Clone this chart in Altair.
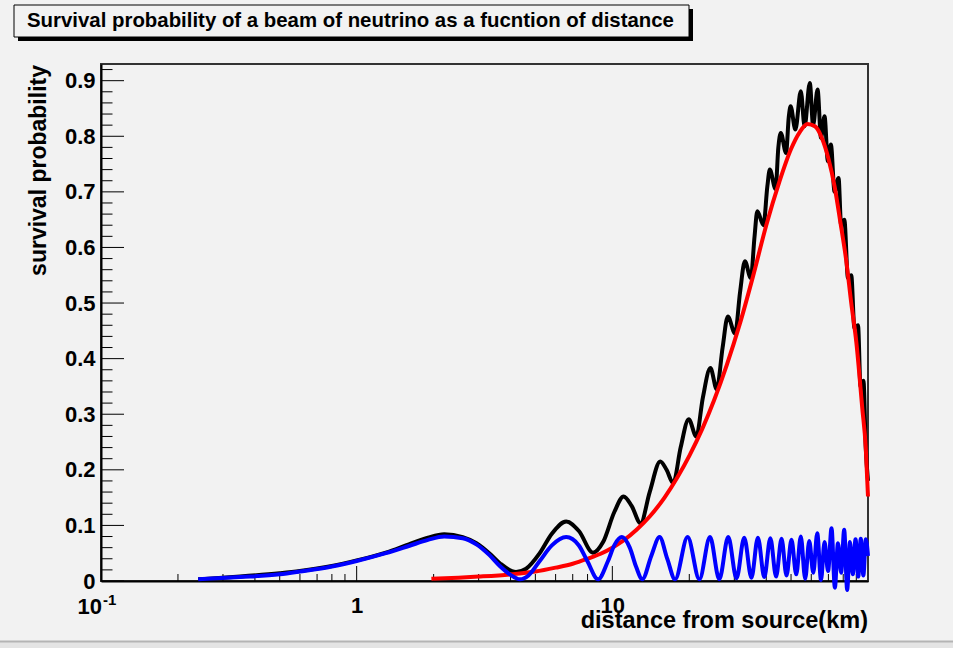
import altair as alt
import pandas as pd

# ---------------- data ----------------
title_text = "Survival probability of a beam of neutrino as a fucntion of distance"
y_title = "survival probability"
x_title = "distance from source(km)"

black_x = [0.24, 0.35, 0.5, 0.6, 0.8, 1.0, 1.3, 1.6, 1.9, 2.2, 2.6, 2.94, 3.3, 3.63, 4.2, 4.6, 5.2, 5.8,
           6.6, 7.4, 8.4, 9.2, 10.2, 11.07, 11.9, 12.9, 14.0, 15.4, 16.3, 17.3, 18.5, 19.9, 21.3, 22.6,
           24.2, 25.6, 27.0, 28.3, 30.2, 31.6, 33.0, 34.8, 36.0, 36.9, 39.0, 40.4, 41.3, 43.5, 44.6, 45.6,
           47.8, 49.0, 49.8, 52.0, 54.6, 56.5, 59.2, 61.0, 63.5, 65.5, 67.6, 69.7, 71.6, 74.0, 76.7, 78.5,
           80.8, 83.5, 86.0, 88.5, 91.4, 93.5, 96.0, 98.0, 100.0]
black_y = [0.003, 0.008, 0.014, 0.018, 0.027, 0.037, 0.051, 0.066, 0.078, 0.084, 0.079, 0.068, 0.05, 0.032,
           0.016, 0.022, 0.05, 0.085, 0.107, 0.09, 0.051, 0.07, 0.125, 0.152, 0.135, 0.104, 0.16, 0.215,
           0.2, 0.176, 0.24, 0.291, 0.26, 0.33, 0.383, 0.345, 0.42, 0.476, 0.445, 0.52, 0.575, 0.545, 0.62,
           0.665, 0.64, 0.71, 0.74, 0.705, 0.78, 0.806, 0.77, 0.835, 0.854, 0.812, 0.881, 0.818, 0.896, 0.82,
           0.884, 0.797, 0.836, 0.755, 0.785, 0.70, 0.725, 0.64, 0.65, 0.545, 0.55, 0.455, 0.46, 0.35,
           0.36, 0.24, 0.18]

red_x = [1.96, 2.5, 3.0, 4.0, 5.0, 6.0, 7.0, 8.0, 9.0, 10.0, 11.0, 12.5, 14.0, 16.0, 18.0, 20.0, 22.5,
         25.0, 28.0, 31.5, 35.5, 40.0, 45.0, 50.0, 54.0, 58.0, 62.0, 66.0, 70.0, 74.0, 78.0, 82.0, 86.0,
         90.0, 95.0, 98.0, 100.0]
red_y = [0.004, 0.006, 0.008, 0.012, 0.017, 0.024, 0.031, 0.040, 0.049, 0.060, 0.072, 0.093, 0.116, 0.150,
         0.187, 0.225, 0.274, 0.325, 0.388, 0.462, 0.548, 0.640, 0.718, 0.777, 0.807, 0.822, 0.818, 0.797,
         0.760, 0.710, 0.645, 0.580, 0.500, 0.430, 0.310, 0.240, 0.152]

blue_x = [0.24, 0.35, 0.5, 0.6, 0.8, 1.0, 1.3, 1.6, 1.9, 2.2, 2.6, 2.94, 3.3, 3.63, 4.0, 4.35, 4.7, 5.2,
          5.8, 6.6, 7.4, 8.0, 8.8, 9.6, 10.2, 10.9, 11.7, 12.4, 13.1, 14.2, 15.3, 16.4, 17.6, 19.7, 21.9,
          24.1, 26.2, 28.4, 30.6, 32.8, 35.0, 37.1, 39.3, 41.5, 43.7, 45.9, 48.0, 50.2, 52.4, 54.6, 56.8,
          58.9, 61.1, 63.3, 65.5, 67.6, 69.8, 72.0, 74.2, 76.3, 78.5, 80.7, 82.9, 85.0, 87.2, 89.4, 91.6,
          93.7, 95.9, 98.1, 100.0]
blue_y = [0.003, 0.007, 0.012, 0.017, 0.026, 0.036, 0.05, 0.063, 0.074, 0.08, 0.077, 0.066, 0.047, 0.027,
          0.011, 0.003, 0.01, 0.036, 0.064, 0.079, 0.064, 0.035, 0.003, 0.035, 0.065, 0.079, 0.06, 0.025,
          0.003, 0.045, 0.079, 0.04, 0.003, 0.079, 0.003, 0.079, 0.003, 0.079, 0.005, 0.078, 0.006, 0.078,
          0.007, 0.077, 0.008, 0.076, 0.01, 0.074, 0.012, 0.08, 0.004, 0.072, 0.015, 0.086, 0.002, 0.07,
          0.018, 0.095, -0.012, 0.068, 0.015, 0.092, -0.016, 0.07, 0.012, 0.075, 0.008, 0.076, 0.01,
          0.075, 0.045]

y_major = [0.0, 0.1, 0.2, 0.3, 0.4, 0.5, 0.6, 0.7, 0.8, 0.9]
y_minor = [0.02, 0.04, 0.06, 0.08, 0.12, 0.14, 0.16, 0.18, 0.22, 0.24, 0.26, 0.28, 0.32, 0.34, 0.36,
           0.38, 0.42, 0.44, 0.46, 0.48, 0.52, 0.54, 0.56, 0.58, 0.62, 0.64, 0.66, 0.68, 0.72, 0.74,
           0.76, 0.78, 0.82, 0.84, 0.86, 0.88, 0.92]
x_major = [1.0, 10.0]
x_minor = [0.2, 0.3, 0.4, 0.5, 0.6, 0.7, 0.8, 0.9, 2, 3, 4, 5, 6, 7, 8, 9, 20, 30, 40, 50, 60, 70, 80, 90]
x_label_vals = [1.0, 10.0]
x_exp_val = [0.1]
x_exp_base = ["10"]
x_exp_sup = ["-1"]

# ---------------- layout ----------------
W, H = 767, 517
BG = "#f2f2f2"
FONT = "Liberation Sans"

xs = alt.Scale(type="log", domain=[0.1, 100])
ys = alt.Scale(domain=[0, 0.93], nice=False, zero=False)

x_axis = alt.Axis(values=x_label_vals, labelExpr="datum.value == 1 ? '1' : '10'", ticks=False,
                  grid=False, domainColor="black", domainWidth=2, labelFont=FONT, labelFontSize=22,
                  labelFontWeight="bold", labelColor="black", labelPadding=14, title=None)
y_axis = alt.Axis(values=y_major, labelExpr="datum.value == 0 ? '0' : format(datum.value, '.1f')",
                  ticks=False, grid=False, domainColor="black", domainWidth=2, labelFont=FONT,
                  labelFontSize=22, labelFontWeight="bold", labelColor="black", labelPadding=6,
                  title=None)


def X(field):
    return alt.X(field, scale=xs, axis=x_axis)


def Y(field):
    return alt.Y(field, scale=ys, axis=y_axis)


black = pd.DataFrame({"x": black_x, "y": black_y})
red = pd.DataFrame({"x": red_x, "y": red_y})
blue = pd.DataFrame({"x": blue_x, "y": blue_y})


def curve(df, color):
    return alt.Chart(df).mark_line(color=color, strokeWidth=4, interpolate="monotone", clip=False).encode(
        x=X("x:Q"), y=Y("y:Q"))


ymaj = alt.Chart(pd.DataFrame({"v": y_major})).mark_rule(color="black", strokeWidth=1).encode(
    y=Y("v:Q"), x=alt.value(0), x2=alt.value(23))
ymin = alt.Chart(pd.DataFrame({"v": y_minor})).mark_rule(color="black", strokeWidth=1).encode(
    y=Y("v:Q"), x=alt.value(0), x2=alt.value(11.5))
xmaj = alt.Chart(pd.DataFrame({"v": x_major})).mark_rule(color="black", strokeWidth=1).encode(
    x=X("v:Q"), y=alt.value(H), y2=alt.value(H - 15))
xmin = alt.Chart(pd.DataFrame({"v": x_minor})).mark_rule(color="black", strokeWidth=1).encode(
    x=X("v:Q"), y=alt.value(H), y2=alt.value(H - 7))

exp_df = pd.DataFrame({"v": x_exp_val, "b": x_exp_base, "s": x_exp_sup})
exp_base = alt.Chart(exp_df).mark_text(font=FONT, fontSize=22, fontWeight="bold", color="black",
                                       align="right", baseline="top", dx=1, dy=16).encode(
    x=X("v:Q"), y=alt.value(H), text="b:N")
exp_sup = alt.Chart(exp_df).mark_text(font=FONT, fontSize=15, fontWeight="bold", color="black",
                                      align="left", baseline="top", dx=2, dy=12).encode(
    x=X("v:Q"), y=alt.value(H), text="s:N")

one = pd.DataFrame({"t": [title_text], "yt": [y_title], "xt": [x_title]})
shadow = alt.Chart(one).mark_rect(color="black").encode(
    x=alt.value(-87 + 4), x2=alt.value(588 + 4), y=alt.value(-59 + 4), y2=alt.value(-27 + 4))
box = alt.Chart(one).mark_rect(fill=BG, stroke="black", strokeWidth=1).encode(
    x=alt.value(-87), x2=alt.value(588), y=alt.value(-59), y2=alt.value(-27))
title = alt.Chart(one).mark_text(font=FONT, fontSize=20.4, fontWeight="bold", color="black",
                                 align="left", baseline="middle").encode(
    x=alt.value(-74), y=alt.value(-43), text="t:N")
ytitle = alt.Chart(one).mark_text(font=FONT, fontSize=23, fontWeight="bold", color="black",
                                  align="right", baseline="middle", angle=270).encode(
    x=alt.value(-62), y=alt.value(1), text="yt:N")
xtitle = alt.Chart(one).mark_text(font=FONT, fontSize=23.5, fontWeight="bold", color="black",
                                  align="right", baseline="alphabetic").encode(
    x=alt.value(W), y=alt.value(564), text="xt:N")

# grey strip along the bottom edge of the picture
strip = alt.Chart(one).mark_rect(fill="#e4e4e4", stroke="#b4b4b4", strokeWidth=2).encode(
    x=alt.value(-102), x2=alt.value(853), y=alt.value(577.5), y2=alt.value(590))

chart = alt.layer(
    strip, ymaj, ymin, xmaj, xmin,
    curve(black, "black"), curve(red, "#ff0000"), curve(blue, "#0000ff"),
    exp_base, exp_sup, shadow, box, title, ytitle, xtitle,
).properties(
    width=W, height=H,
    autosize=alt.AutoSizeParams(type="none"),
    padding={"left": 101, "top": 64, "right": 85, "bottom": 67},
    background=BG,
).configure_view(stroke="#333333", strokeWidth=2, fill=BG)

chart.save("out.html", embed_options={"renderer": "svg", "actions": False})
